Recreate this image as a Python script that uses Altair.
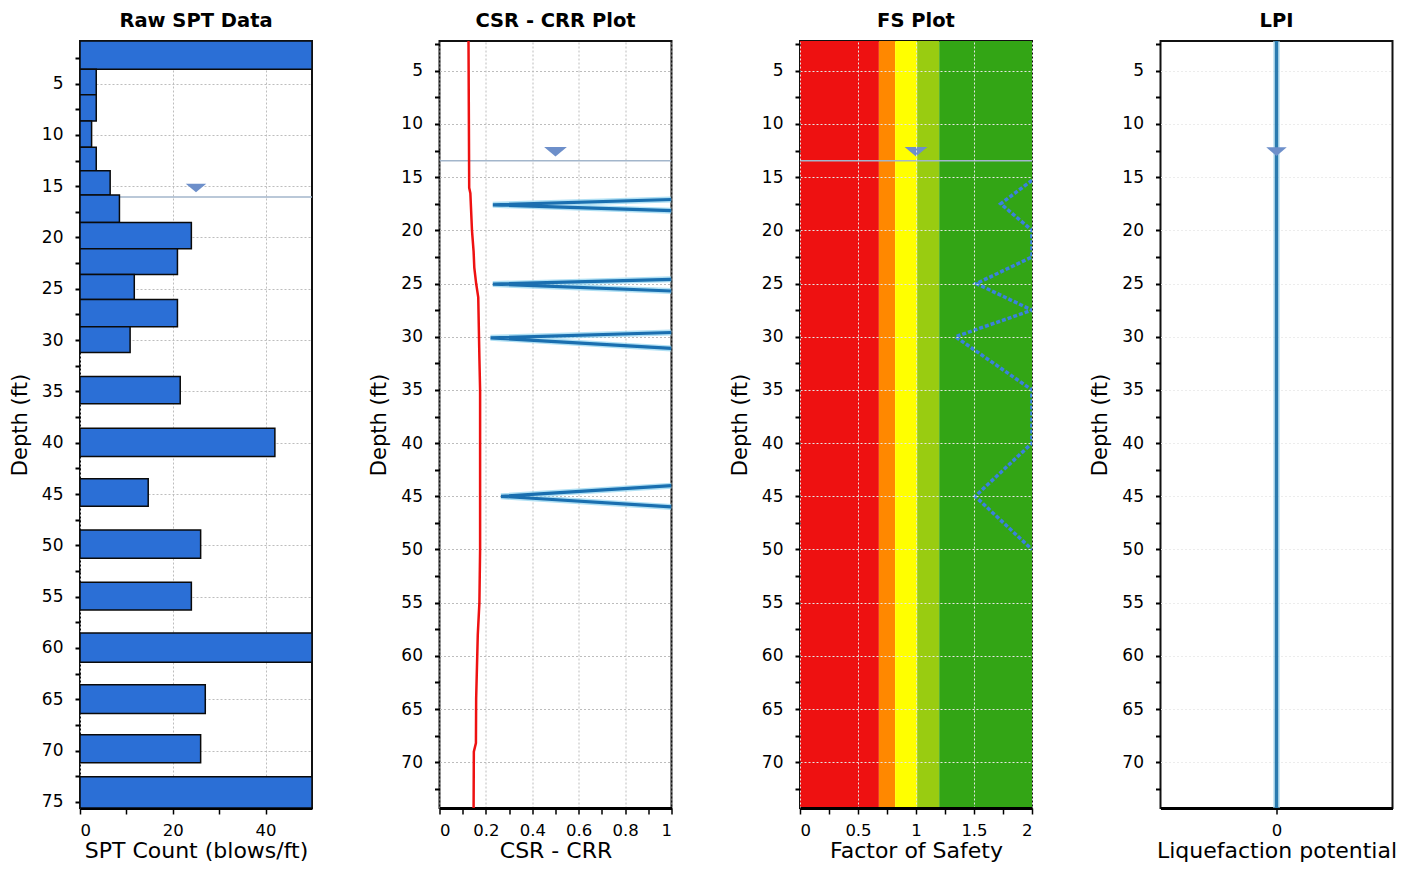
import altair as alt
import pandas as pd

FONT = "DejaVu Sans"

# ---------------- data ----------------
# Raw SPT data: layer top / bottom depth (ft) and blow count
spt_top = [0.85, 3.6, 6.1, 8.65, 11.2, 13.5, 15.85, 18.55, 21.1, 23.6, 26.05, 28.7,
           33.55, 38.6, 43.5, 48.5, 53.6, 58.55, 63.6, 68.45, 72.55]
spt_bottom = [3.6, 6.1, 8.65, 11.2, 13.5, 15.85, 18.55, 21.1, 23.6, 26.05, 28.7, 31.2,
              36.2, 41.35, 46.2, 51.25, 56.3, 61.4, 66.4, 71.2, 75.6]
spt_count = [50, 3.5, 3.5, 2.5, 3.5, 6.5, 8.5, 24, 21, 11.7, 21, 10.8,
             21.6, 42, 14.7, 26, 24, 50, 27, 26, 50]

# CSR - CRR plot: CSR profile (red)
csr_depth = [2.2, 16.0, 16.5, 20.0, 22.0, 23.5, 25.0, 26.3, 32.0, 35.0, 50.0,
             55.0, 58.0, 64.0, 68.2, 69.0, 74.3]
csr_value = [0.125, 0.128, 0.133, 0.14, 0.147, 0.15, 0.158, 0.167, 0.172, 0.175, 0.175,
             0.172, 0.165, 0.158, 0.157, 0.148, 0.147]

# CRR excursions (blue)
crr_group = [1, 1, 1, 2, 2, 2, 3, 3, 3, 4, 4, 4]
crr_order = [0, 1, 2, 0, 1, 2, 0, 1, 2, 0, 1, 2]
crr_depth = [17.1, 17.6, 18.15, 24.6, 25.05, 25.7, 29.6, 30.1, 31.1, 44.0, 45.0, 46.0]
crr_value = [1.0, 0.23, 1.0, 1.0, 0.23, 1.0, 1.0, 0.22, 1.0, 1.0, 0.265, 1.0]

# FS plot: background bands and factor of safety profile
fs_band_name = ["very high", "high", "moderate", "low", "none"]
fs_band_from = [0.0, 0.68, 0.82, 1.01, 1.2]
fs_band_to = [0.68, 0.82, 1.01, 1.2, 2.0]
fs_band_color = ["#ee1111", "#ff8800", "#ffff00", "#99cc11", "#33a515"]

fs_depth = [15.3, 17.5, 20.0, 22.5, 25.0, 27.5, 30.0, 35.0, 40.0, 45.0, 50.0]
fs_value = [2.0, 1.73, 2.0, 2.0, 1.52, 2.0, 1.34, 2.0, 2.0, 1.51, 2.0]

# LPI
lpi_depth = [2.2, 10.0, 20.0, 30.0, 40.0, 50.0, 60.0, 70.0, 74.3]
lpi_value = [0, 0, 0, 0, 0, 0, 0, 0, 0]

# Water table depths (ft)
water_spt = 16.05
water_depth = 13.45

# axis tick values
spt_ticks_x = [0, 10, 20, 30, 40]
csr_ticks_x = [0.0, 0.1, 0.2, 0.3, 0.4, 0.5, 0.6, 0.7, 0.8, 0.9, 1.0]
fs_ticks_x = [0, 0.25, 0.5, 0.75, 1.0, 1.25, 1.5, 1.75, 2.0]
lpi_ticks_x = [0]
depth_ticks_spt = [2.5, 5, 7.5, 10, 12.5, 15, 17.5, 20, 22.5, 25, 27.5, 30, 32.5, 35, 37.5,
                   40, 42.5, 45, 47.5, 50, 52.5, 55, 57.5, 60, 62.5, 65, 67.5, 70, 72.5, 75]
depth_ticks = [2.5, 5, 7.5, 10, 12.5, 15, 17.5, 20, 22.5, 25, 27.5, 30, 32.5, 35, 37.5,
               40, 42.5, 45, 47.5, 50, 52.5, 55, 57.5, 60, 62.5, 65, 67.5, 70, 72.5]

# ---------------- frames ----------------
spt_df = pd.DataFrame({"depth": spt_top, "bottom": spt_bottom, "spt": spt_count})
csr_df = pd.DataFrame({"depth": csr_depth, "v": csr_value})
crr_df = pd.DataFrame({"g": crr_group, "o": crr_order, "depth": crr_depth, "v": crr_value})
band_df = pd.DataFrame({"band": fs_band_name, "x0": fs_band_from, "x1": fs_band_to})
fs_df = pd.DataFrame({"depth": fs_depth, "v": fs_value})
lpi_df = pd.DataFrame({"depth": lpi_depth, "v": lpi_value})

TRI = "M-1,-0.42L1,-0.42L0,0.42Z"
TRI_COLOR = "#6d8fca"
WATER_COLOR = "#a3b6cb"
W, H = 232, 767


def yenc(domain, ticks, zindex=0, grid_color="#bdbdbd"):
    return alt.Y(
        "depth:Q",
        scale=alt.Scale(domain=domain, reverse=True, nice=False, zero=False),
        axis=alt.Axis(
            values=ticks, title="Depth (ft)",
            labelExpr="datum.value % 5 === 0 ? datum.label : ''",
            gridOpacity={"condition": {"test": "datum.value % 5 === 0", "value": 1}, "value": 0},
            gridColor=grid_color, zindex=zindex,
        ),
    )


def xenc(field, domain, ticks, label_test, grid_test, title, zindex=0, grid=True,
         grid_color="#bdbdbd"):
    return alt.X(
        f"{field}:Q",
        scale=alt.Scale(domain=domain, nice=False, zero=False),
        axis=alt.Axis(
            values=ticks, title=title,
            labelExpr=f"({label_test}) ? format(datum.value, '~g') : ''",
            grid=grid,
            gridOpacity={"condition": {"test": grid_test, "value": 1}, "value": 0},
            gridColor=grid_color, zindex=zindex,
        ),
    )


def title(text):
    return alt.TitleParams(text, font=FONT, fontSize=19.5, fontWeight="bold",
                           anchor="middle", color="#000", offset=10)


# ---------------- panel 1: Raw SPT ----------------
y1 = yenc([0.85, 75.6], depth_ticks_spt)
x1 = lambda f: xenc(f, [0, 50], spt_ticks_x, "datum.value % 20 === 0",
                    "datum.value % 20 === 0", "SPT Count (blows/ft)")

w1 = pd.DataFrame({"depth": [water_spt], "x": [25]})
p1 = alt.layer(
    alt.Chart(w1).mark_rule(color=WATER_COLOR, strokeWidth=1.5, clip=True).encode(y=y1),
    alt.Chart(spt_df).mark_rect(color="#2b6fd6", stroke="#0a0a0a", strokeWidth=1.5,
                                clip=True).encode(
        x=x1("spt"), x2=alt.datum(0), y=y1, y2="bottom:Q"),
    alt.Chart(w1).mark_point(shape=TRI, filled=True, size=420, color=TRI_COLOR, opacity=1,
                             yOffset=-9).encode(x=x1("x"), y=y1),
).properties(width=W, height=H, title=title("Raw SPT Data"))

# ---------------- panel 2: CSR - CRR ----------------
DOM = [2.2, 74.3]
y2 = yenc(DOM, depth_ticks)
x2 = lambda f: xenc(f, [0, 1], csr_ticks_x, "round(datum.value * 10) % 2 === 0",
                    "round(datum.value * 10) % 2 === 0", "CSR - CRR")
w2 = pd.DataFrame({"depth": [water_depth], "x": [0.5]})
p2 = alt.layer(
    alt.Chart(w2).mark_rule(color=WATER_COLOR, strokeWidth=1.5, clip=True).encode(y=y2),
    alt.Chart(crr_df).mark_line(color="#8fd3f0", strokeWidth=6, opacity=0.7, clip=True).encode(
        x=x2("v"), y=y2, detail="g:N", order="o:Q"),
    alt.Chart(crr_df).mark_line(color="#1a6fb0", strokeWidth=3.2, clip=True).encode(
        x=x2("v"), y=y2, detail="g:N", order="o:Q"),
    alt.Chart(csr_df).mark_line(color="#ee1111", strokeWidth=2.5, clip=True).encode(
        x=x2("v"), y=y2, order="depth:Q"),
    alt.Chart(w2).mark_point(shape=TRI, filled=True, size=520, color=TRI_COLOR, opacity=1,
                             yOffset=-9).encode(x=x2("x"), y=y2),
).properties(width=W, height=H, title=title("CSR - CRR Plot"))

# ---------------- panel 3: FS ----------------
y3 = yenc(DOM, depth_ticks, zindex=1, grid_color="#e6e6e6")
x3 = lambda f: xenc(f, [0, 2], fs_ticks_x, "datum.value % 0.5 === 0",
                    "datum.value % 0.5 === 0", "Factor of Safety", zindex=1,
                    grid_color="#e6e6e6")
w3 = pd.DataFrame({"depth": [water_depth], "x": [1.0]})
p3 = alt.layer(
    alt.Chart(band_df).mark_rect(clip=True).encode(
        x=x3("x0"), x2="x1:Q",
        color=alt.Color("band:N", scale=alt.Scale(domain=fs_band_name, range=fs_band_color),
                        legend=None)),
    alt.Chart(w3).mark_rule(color=WATER_COLOR, strokeWidth=1.5, clip=True).encode(y=y3),
    alt.Chart(fs_df).mark_line(color="#3a82dc", strokeWidth=3.5, strokeDash=[4, 2],
                               clip=True).encode(
        x=x3("v"), y=y3, order="depth:Q"),
    alt.Chart(w3).mark_point(shape=TRI, filled=True, size=520, color=TRI_COLOR, opacity=1,
                             yOffset=-9).encode(x=x3("x"), y=y3),
).properties(width=W, height=H, title=title("FS Plot"))

# ---------------- panel 4: LPI ----------------
y4 = yenc(DOM, depth_ticks, grid_color="#ececec")
x4 = lambda f: xenc(f, [-1, 1], lpi_ticks_x, "true", "false", "Liquefaction potential",
                    grid=False)
w4 = pd.DataFrame({"depth": [water_depth], "x": [0]})
p4 = alt.layer(
    alt.Chart(lpi_df).mark_line(color="#a9d8ee", strokeWidth=7, opacity=0.6, clip=True).encode(
        x=x4("v"), y=y4, order="depth:Q"),
    alt.Chart(lpi_df).mark_line(color="#2a7bb0", strokeWidth=3.5, clip=True).encode(
        x=x4("v"), y=y4, order="depth:Q"),
    alt.Chart(w4).mark_point(shape=TRI, filled=True, size=420, color=TRI_COLOR, opacity=1,
                             yOffset=-9).encode(x=x4("x"), y=y4),
).properties(width=W, height=H, title=title("LPI"))

chart = (
    alt.hconcat(p1, p2, p3, p4, spacing=54.5)
    .properties(padding={"left": 0, "top": 1, "right": 0, "bottom": 0}, background="white")
    .configure_view(stroke="#111", strokeWidth=2)
    .configure_axis(labelFont=FONT, titleFont=FONT, labelColor="#000", titleColor="#000",
                    titleFontWeight="normal", tickColor="#000", gridDash=[2, 2], gridWidth=1)
    .configure_axisX(labelFontSize=16.5, titleFontSize=22, tickSize=6, tickWidth=1.5,
                     labelPadding=8, titlePadding=2, domainColor="#000", domainWidth=3)
    .configure_axisY(labelFontSize=17, titleFontSize=21, tickSize=5, tickWidth=2,
                     labelPadding=12, titlePadding=5, minExtent=45, maxExtent=45,
                     domain=False)
)

chart.save("out.html", embed_options={"renderer": "svg", "actions": False})
